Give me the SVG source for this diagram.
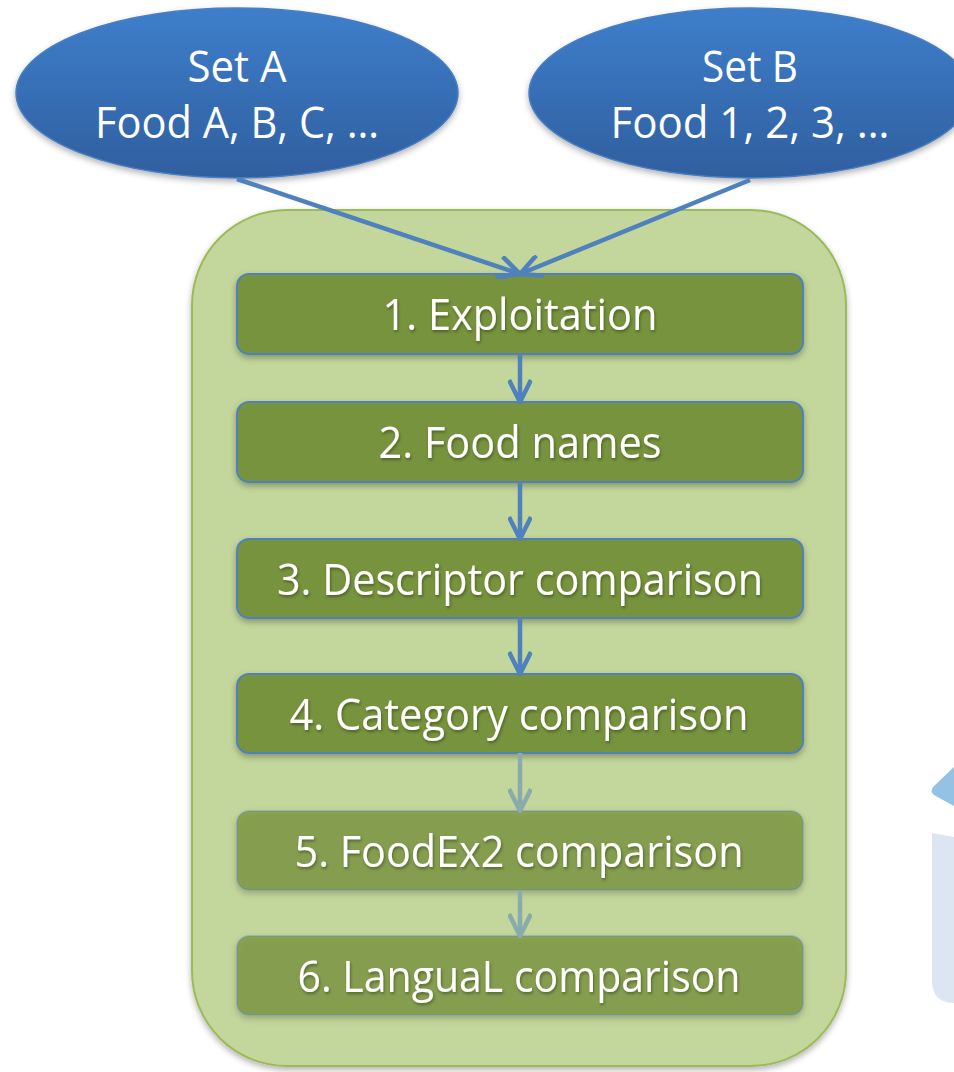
<svg xmlns="http://www.w3.org/2000/svg" width="954" height="1072" viewBox="0 0 954 1072">
<defs>
<linearGradient id="gEll" x1="0" y1="0" x2="0" y2="1">
<stop offset="0" stop-color="#3e7ecb"/>
<stop offset="1" stop-color="#2f5f9f"/>
</linearGradient>
<filter id="sh" x="-10%" y="-10%" width="120%" height="130%">
<feDropShadow dx="0" dy="3" stdDeviation="3" flood-color="#000" flood-opacity="0.3"/>
</filter>
<filter id="tsh" x="-5%" y="-20%" width="110%" height="150%">
<feDropShadow dx="1" dy="2" stdDeviation="1.5" flood-color="#000" flood-opacity="0.35"/>
</filter>
<marker id="ah" viewBox="0 0 26 24" refX="24" refY="12" markerWidth="26" markerHeight="24" markerUnits="userSpaceOnUse" orient="auto">
<path d="M2,1 L24,12 L2,23" fill="none" stroke="#4f81bd" stroke-width="4.5"/>
</marker>
<marker id="ahf" viewBox="0 0 26 24" refX="24" refY="12" markerWidth="26" markerHeight="24" markerUnits="userSpaceOnUse" orient="auto">
<path d="M2,1 L24,12 L2,23" fill="none" stroke="#89abac" stroke-width="4.5"/>
</marker>
</defs>
<style>
.ell{fill:url(#gEll);stroke:#4a7fc0;stroke-width:1.5;filter:url(#sh)}
.txt{font-family:"Open Sans","Liberation Sans",sans-serif;font-size:44px;fill:#ffffff;text-anchor:middle}
.box{fill:#77933c;stroke:#4f81bd;stroke-width:2;filter:url(#sh)}
.boxf{fill:#77933c;fill-opacity:0.72;stroke:#4f81bd;stroke-opacity:0.3;stroke-width:2;filter:url(#sh)}
.con{fill:none;stroke:#4f81bd;stroke-width:4.5}
.conf{fill:none;stroke:#89abac;stroke-width:4.5}
</style>
<rect width="954" height="1072" fill="#ffffff"/>
<g id="side-shape">
<path d="M954,767 L934,786 Q929,791 934,795 L954,806 Z" fill="#93c2e4"/>
<path d="M932,833 L954,837 L954,1003 Q932,1003 932,980 Z" fill="#dbe6f2"/>
</g>
<g id="container">
<rect x="192" y="210" width="654" height="856" rx="95" ry="95" fill="#c3d69b" stroke="#9bbb59" stroke-width="2" filter="url(#sh)"/>
</g>
<g id="setA">
<ellipse class="ell" cx="237" cy="93" rx="221" ry="85"/>
<text class="txt" x="237" y="82" textLength="99" lengthAdjust="spacingAndGlyphs">Set A</text>
<text class="txt" x="237" y="138" textLength="284" lengthAdjust="spacingAndGlyphs">Food A, B, C, …</text>
</g>
<g id="setB">
<ellipse class="ell" cx="750" cy="93" rx="221" ry="85"/>
<text class="txt" x="750" y="82" textLength="96" lengthAdjust="spacingAndGlyphs">Set B</text>
<text class="txt" x="750" y="138" textLength="279" lengthAdjust="spacingAndGlyphs">Food 1, 2, 3, …</text>
</g>
<g id="step1">
<rect class="box" x="237" y="274" width="566" height="80" rx="12"/>
<text class="txt" x="520" y="330" filter="url(#tsh)" textLength="275" lengthAdjust="spacingAndGlyphs">1. Exploitation</text>
</g>
<g id="step2">
<rect class="box" x="237" y="402" width="566" height="80" rx="12"/>
<text class="txt" x="520" y="458" filter="url(#tsh)" textLength="283" lengthAdjust="spacingAndGlyphs">2. Food names</text>
</g>
<g id="step3">
<rect class="box" x="237" y="539" width="566" height="79" rx="12"/>
<text class="txt" x="520" y="595" filter="url(#tsh)" textLength="486" lengthAdjust="spacingAndGlyphs">3. Descriptor comparison</text>
</g>
<g id="step4">
<rect class="box" x="237" y="674" width="566" height="79" rx="12"/>
<text class="txt" x="519" y="730" filter="url(#tsh)" textLength="459" lengthAdjust="spacingAndGlyphs">4. Category comparison</text>
</g>
<g id="step5">
<rect class="boxf" x="237" y="811" width="566" height="79" rx="12"/>
<text class="txt" x="519" y="867" filter="url(#tsh)" textLength="449" lengthAdjust="spacingAndGlyphs">5. FoodEx2 comparison</text>
</g>
<g id="step6">
<rect class="boxf" x="237" y="936" width="566" height="79" rx="12"/>
<text class="txt" x="519" y="992" filter="url(#tsh)" textLength="443" lengthAdjust="spacingAndGlyphs">6. LanguaL comparison</text>
</g>
<g id="connectors">
<line class="con" x1="237" y1="179" x2="520" y2="274" marker-end="url(#ah)" stroke-width="3.5"/>
<line class="con" x1="750" y1="180" x2="520" y2="274" marker-end="url(#ah)" stroke-width="3.5"/>
<line class="con" x1="520" y1="354" x2="520" y2="402" marker-end="url(#ah)"/>
<line class="con" x1="520" y1="482" x2="520" y2="539" marker-end="url(#ah)"/>
<line class="con" x1="520" y1="618" x2="520" y2="674" marker-end="url(#ah)"/>
<line class="conf" x1="520" y1="753" x2="520" y2="811" marker-end="url(#ahf)"/>
<line class="conf" x1="520" y1="890" x2="520" y2="936" marker-end="url(#ahf)"/>
</g>
</svg>
